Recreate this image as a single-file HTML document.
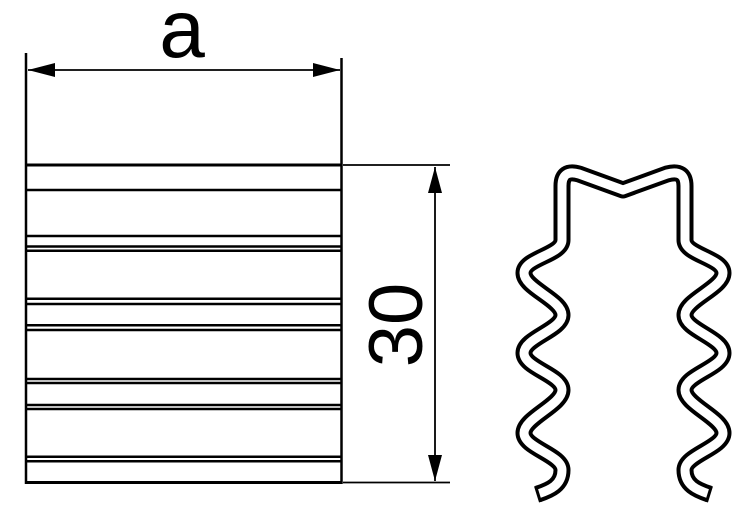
<!DOCTYPE html>
<html><head><meta charset="utf-8"><style>html,body{margin:0;padding:0;background:#fff}svg{display:block}</style></head>
<body>
<svg width="746" height="517" viewBox="0 0 746 517" xmlns="http://www.w3.org/2000/svg">
<g stroke="#000" fill="none">
<!-- extension lines top -->
<line x1="26" y1="53" x2="26" y2="484" stroke-width="2.5"/>
<line x1="341.5" y1="58" x2="341.5" y2="484" stroke-width="2.5"/>
<!-- rectangle top/bottom -->
<line x1="25" y1="165" x2="342" y2="165" stroke-width="3"/>
<line x1="25" y1="482.5" x2="342" y2="482.5" stroke-width="3"/>
<!-- inner lines -->
<g stroke-width="2.5">
<line x1="26" y1="190" x2="341" y2="190"/>
<line x1="26" y1="236" x2="341" y2="236"/>
<line x1="26" y1="246.5" x2="341" y2="246.5"/>
<line x1="26" y1="250.7" x2="341" y2="250.7"/>
<line x1="26" y1="298.7" x2="341" y2="298.7"/>
<line x1="26" y1="304" x2="341" y2="304"/>
<line x1="26" y1="325.3" x2="341" y2="325.3"/>
<line x1="26" y1="330" x2="341" y2="330"/>
<line x1="26" y1="379" x2="341" y2="379"/>
<line x1="26" y1="383" x2="341" y2="383"/>
<line x1="26" y1="405" x2="341" y2="405"/>
<line x1="26" y1="409" x2="341" y2="409"/>
<line x1="26" y1="456.7" x2="341" y2="456.7"/>
<line x1="26" y1="461.3" x2="341" y2="461.3"/>
</g>
<!-- dimension a -->
<line x1="28" y1="70" x2="340" y2="70" stroke-width="1.8"/>
<!-- right extension lines -->
<line x1="343" y1="165" x2="450" y2="165" stroke-width="1.8"/>
<line x1="343" y1="482.5" x2="450" y2="482.5" stroke-width="1.8"/>
<line x1="435" y1="167" x2="435" y2="481" stroke-width="1.8"/>
</g>
<g fill="#000">
<polygon points="28,70 55,63 55,77"/>
<polygon points="340,70 313,63 313,77"/>
<polygon points="435,167 428,193 442,193"/>
<polygon points="435,481 428,455 442,455"/>
</g>
<text x="182" y="57" font-family="Liberation Sans, sans-serif" font-size="82" text-anchor="middle">a</text>
<text transform="translate(422,325) rotate(-90)" font-family="Liberation Sans, sans-serif" font-size="76" text-anchor="middle">30</text>
<!-- wavy profile -->
<g fill="none">
<path id="p" d="M538 494 C550 490 562 485 562 470 C562 455 524 448 524 433 C524 418 562 405 562 390 C562 375 524 368 524 353 C524 338 562 330 562 315 C562 300 524 288 524 273 C524 258 562 255 562 240 L562 186 Q562 169 579 174 L623 190 L667 174 Q685 169 685 186 L685 240 C685 255 723 258 723 273 C723 288 685 300 685 315 C685 330 723 338 723 353 C723 368 685 375 685 390 C685 405 723 418 723 433 C723 448 685 455 685 470 C685 485 697 490 709 494" stroke="#000" stroke-width="17" stroke-linecap="butt" stroke-linejoin="round"/>
<path d="M538 494 C550 490 562 485 562 470 C562 455 524 448 524 433 C524 418 562 405 562 390 C562 375 524 368 524 353 C524 338 562 330 562 315 C562 300 524 288 524 273 C524 258 562 255 562 240 L562 186 Q562 169 579 174 L623 190 L667 174 Q685 169 685 186 L685 240 C685 255 723 258 723 273 C723 288 685 300 685 315 C685 330 723 338 723 353 C723 368 685 375 685 390 C685 405 723 418 723 433 C723 448 685 455 685 470 C685 485 697 490 709 494" stroke="#fff" stroke-width="9" stroke-linecap="butt" stroke-linejoin="round"/>
<line x1="535.5" y1="486" x2="540.5" y2="502" stroke="#000" stroke-width="3"/>
<line x1="711.5" y1="486" x2="706.5" y2="502" stroke="#000" stroke-width="3"/>
</g>
</svg>
</body></html>
